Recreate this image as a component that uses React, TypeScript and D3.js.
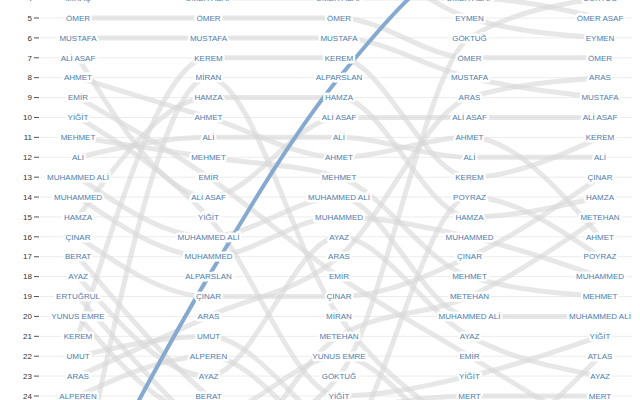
import React from "react";
import * as d3 from "d3";

const years = ["2019", "2020", "2021", "2022", "2023"];
const rankTicks = d3.range(4, 25);

const names = [
  "YUSUF", "EYMEN", "ÖMER ASAF", "MİRAÇ", "ALPARSLAN", "GÖKTUĞ", "ÖMER", "MUSTAFA",
  "ALİ ASAF", "AHMET", "EMİR", "YİĞİT", "MEHMET", "ALİ", "MUHAMMED ALİ", "MUHAMMED",
  "HAMZA", "ÇINAR", "BERAT", "AYAZ", "ERTUĞRUL", "YUNUS EMRE", "KEREM", "UMUT",
  "ARAS", "ALPEREN", "MİRAN", "METEHAN", "POYRAZ", "MERT", "ATLAS",
];

const ranks: number[][] = [
  [1, 1, 1, 1, 2],
  [2, 2, 2, 5, 6],
  [3, 4, 4, 4, 5],
  [4, 3, 3, 3, 3],
  [30, 18, 8, 2, 1],
  [30, 27, 23, 6, 4],
  [5, 5, 5, 7, 7],
  [6, 6, 6, 8, 9],
  [7, 14, 10, 10, 10],
  [8, 10, 12, 11, 16],
  [9, 13, 18, 22, 26],
  [10, 15, 24, 23, 21],
  [11, 12, 13, 18, 19],
  [12, 11, 11, 12, 12],
  [13, 16, 14, 20, 20],
  [14, 17, 15, 16, 18],
  [15, 9, 9, 15, 14],
  [16, 19, 19, 17, 13],
  [17, 24, 28, 32, 34],
  [18, 23, 16, 21, 23],
  [19, 26, 31, 35, 36],
  [20, 25, 22, 27, 29],
  [21, 7, 7, 13, 11],
  [22, 21, 26, 30, 32],
  [23, 20, 17, 9, 8],
  [24, 22, 27, 31, 33],
  [29, 8, 20, 26, 30],
  [32, 29, 21, 19, 15],
  [35, 30, 27, 14, 17],
  [28, 28, 25, 24, 24],
  [40, 38, 32, 28, 22],
];

const highlight = "ALPARSLAN";

export default function App() {
  const width = 640;
  const height = 400;
  const x = d3.scalePoint<string>().domain(years).range([78, 600]);
  const y = d3.scaleLinear().domain([5, 24]).range([18, 396]);
  const line = d3
    .line<number>()
    .x((_, i) => x(years[i]) as number)
    .y((d) => y(d))
    .curve(d3.curveMonotoneX);

  const font = "'Liberation Sans', Arial, Helvetica, sans-serif";
  const order = names
    .map((_, i) => i)
    .sort((a, b) => (names[a] === highlight ? 1 : 0) - (names[b] === highlight ? 1 : 0));

  return (
    <div style={{ position: "fixed", left: 0, top: 0 }}>
      <svg width={width} height={height} style={{ display: "block", background: "#fff" }}>
        <g>
          {rankTicks.map((r) => (
            <g key={r}>
              <line x1={40} x2={632} y1={y(r)} y2={y(r)} stroke="#ececec" strokeWidth={1} />
              <line x1={34} x2={39} y1={y(r)} y2={y(r)} stroke="#555" strokeWidth={1} />
              <text x={32} y={y(r)} dy="0.34em" textAnchor="end" fontSize={8} fill="#333" fontFamily={font}>
                {r}
              </text>
            </g>
          ))}
        </g>
        <g fill="none" strokeLinecap="round">
          {order.map((i) => {
            const isH = names[i] === highlight;
            return (
              <path
                key={names[i]}
                d={line(ranks[i]) || ""}
                stroke={isH ? "#86a9d0" : "#d8d8d8"}
                strokeOpacity={isH ? 1 : 0.62}
                strokeWidth={isH ? 4 : 5}
              />
            );
          })}
        </g>
        <g fontFamily={font} fontSize={8} textAnchor="middle">
          {names.map((n, i) =>
            ranks[i].map((r, j) =>
              r >= 4 && r <= 24 ? (
                <text
                  key={n + j}
                  x={x(years[j])}
                  y={y(r)}
                  dy="0.34em"
                  fill="#4d7bae"
                  stroke="#fff"
                  strokeWidth={5}
                  strokeLinejoin="round"
                  paintOrder="stroke"
                >
                  {n}
                </text>
              ) : null
            )
          )}
        </g>
      </svg>
    </div>
  );
}
